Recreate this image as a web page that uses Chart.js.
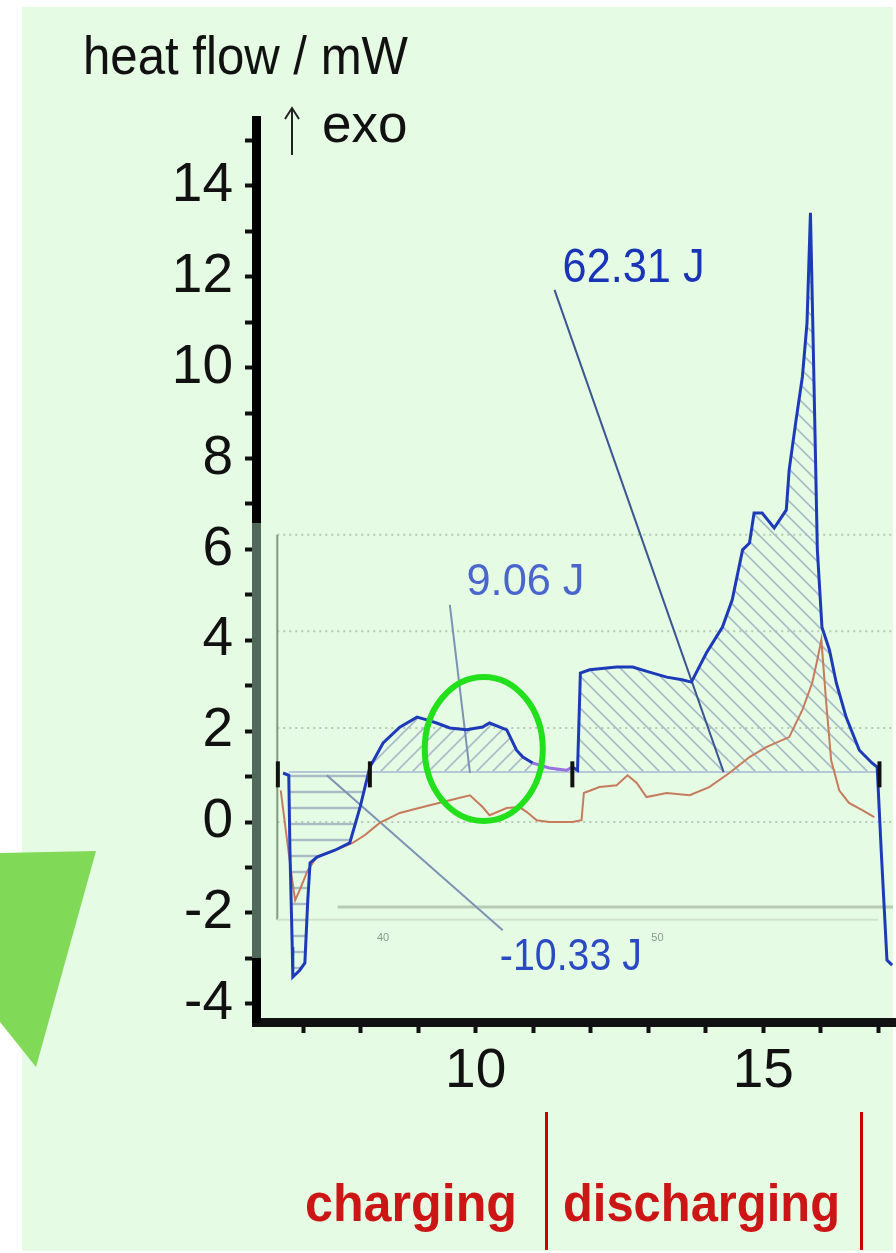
<!DOCTYPE html>
<html>
<head>
<meta charset="utf-8">
<script src="https://cdn.jsdelivr.net/npm/chart.js@4.4.1/dist/chart.umd.min.js"></script>
<style>
html,body{margin:0;padding:0;background:#fff;overflow:hidden;width:896px;height:1253px;}
canvas{display:block;}
</style>
</head>
<body>
<canvas id="c" width="912" height="1253"></canvas>
<script>
// heat flow trace (time in h, mW)
const blueT = [6.65,6.75,6.77,6.81,6.82,6.94,7.03,7.08,7.12,7.24,7.55,7.81,7.99,8.16,8.39,8.68,8.98,9.15,9.32,9.55,9.84,10.12,10.24,10.42,10.54,10.71,10.82,10.99,11.28,11.58,11.68,11.77,11.82,11.98,12.45,12.73,13.02,13.32,13.59,13.75,14.01,14.29,14.46,14.64,14.76,14.84,14.98,15.19,15.40,15.45,15.57,15.68,15.76,15.82,15.87,15.94,16.02,16.15,16.27,16.44,16.67,16.89,16.98,17.05,17.15,17.24];
const blueV = [1.08,1.03,-0.62,-2.75,-3.41,-3.26,-3.10,-1.72,-0.90,-0.77,-0.62,-0.46,0.33,1.21,1.74,2.09,2.31,2.25,2.18,2.07,2.03,2.09,2.18,2.09,2.03,1.58,1.43,1.30,1.19,1.14,1.21,1.14,3.28,3.35,3.41,3.41,3.30,3.19,3.13,3.08,3.72,4.29,4.89,5.99,6.14,6.80,6.80,6.47,6.87,7.75,8.85,9.80,10.98,13.41,10.39,5.99,4.29,3.79,3.06,2.31,1.58,1.30,1.21,-0.62,-3.04,-3.15];

// second trace
const orangeT = [6.61,6.72,6.81,6.86,6.94,7.08,7.24,7.55,7.86,8.07,8.33,8.68,9.08,9.55,9.90,10.12,10.24,10.54,10.76,10.89,11.06,11.28,11.68,11.84,11.88,12.15,12.45,12.64,12.80,12.97,13.32,13.72,14.06,14.41,14.76,15.05,15.45,15.68,15.85,15.94,16.01,16.09,16.18,16.32,16.49,16.72,16.93];
const orangeV = [0.70,-0.40,-1.28,-1.72,-1.50,-1.06,-0.77,-0.62,-0.46,-0.29,-0.02,0.20,0.33,0.48,0.59,0.33,0.15,0.31,0.33,0.22,0.04,0.00,0.00,0.04,0.64,0.77,0.81,1.03,0.86,0.55,0.64,0.59,0.77,1.08,1.43,1.65,1.87,2.47,3.06,3.57,4.01,2.69,1.36,0.70,0.42,0.26,0.11];

// integration baseline and peak limits
const baseLevel = 1.1;
const baselineT = [6.75, 17.0];
const peakRanges = [[6.75, 8.16], [8.16, 11.68], [11.77, 16.98]];
const markerT = [6.56, 8.16, 11.68, 17.02];

// area labels and their leader lines
const areaLabels = ["-10.33 J", "9.06 J", "62.31 J"];
const labelT = [10.42, 9.84, 11.51];
const labelV = [-2.99, 5.28, 12.19];
const leaderT = [[7.41, 10.47], [9.55, 9.90], [11.37, 14.31]];
const leaderV = [[1.03, -2.38], [4.78, 1.08], [11.71, 1.10]];

// overlaid inset grid
const insetGrid = [6.32, 4.2, 2.07, 0];
const insetTicks = ["40", "50"];
const insetTickT = [8.39, 13.16];

const phaseBounds = [11.22, 16.7];
const yTicks = [-4, -2, 0, 2, 4, 6, 8, 10, 12, 14];
const xTicks = [10, 15];

const pts = (t, v) => t.map((x, i) => ({x: x, y: v[i]}));
const bluePts = pts(blueT, blueV);

function hatch(kind) {
  const c = document.createElement('canvas');
  c.width = 16; c.height = 16;
  const g = c.getContext('2d');
  g.strokeStyle = '#a8bcc8';
  g.lineWidth = 1.6;
  g.beginPath();
  if (kind === 'h') {
    g.moveTo(0, 8); g.lineTo(16, 8);
    g.lineWidth = 2.4;
  } else if (kind === '/') {
    g.moveTo(-2, 18); g.lineTo(18, -2);
    g.moveTo(-2, 2); g.lineTo(2, -2);
    g.moveTo(14, 18); g.lineTo(18, 14);
  } else {
    g.moveTo(-2, -2); g.lineTo(18, 18);
    g.moveTo(14, -2); g.lineTo(18, 2);
    g.moveTo(-2, 14); g.lineTo(2, 18);
  }
  g.stroke();
  return g.createPattern(c, 'repeat');
}
const patterns = [hatch('h'), hatch('/'), hatch('\\')];

const tickFont = {family: '"Liberation Sans", Arial, sans-serif', size: 55};

const datasets = [];
peakRanges.forEach((r, i) => {
  datasets.push({
    data: bluePts.filter(p => p.x >= r[0] && p.x <= r[1]),
    borderWidth: 0, pointRadius: 0,
    backgroundColor: patterns[i],
    fill: {value: baseLevel},
    order: 10
  });
});
datasets.push({
  data: baselineT.map(x => ({x: x, y: baseLevel})),
  borderColor: '#b4c8d8', borderWidth: 2, pointRadius: 0, fill: false, order: 6
});
leaderT.forEach((t, i) => {
  datasets.push({
    data: pts(t, leaderV[i]),
    borderColor: i === 2 ? '#3b5690' : '#7d93b4', borderWidth: 2, pointRadius: 0, fill: false, order: 5
  });
});
datasets.push({
  data: pts(orangeT, orangeV),
  borderColor: '#c67c5c', borderWidth: 2, pointRadius: 0, fill: false, order: 3
});
datasets.push({
  data: bluePts,
  borderColor: '#1d3bb8', borderWidth: 3, pointRadius: 0, fill: false, order: 2,
  segment: {
    borderColor: ctx => (ctx.p0.parsed.x >= 10.9 && ctx.p1.parsed.x <= 11.7) ? '#9a72e0' : undefined
  }
});
datasets.push({
  data: markerT.map(x => ({x: x, y: 1.05})),
  showLine: false, pointStyle: 'line', rotation: 90, pointRadius: 13,
  borderColor: '#111', borderWidth: 4, order: 1
});

const decor = {
  id: 'decor',
  beforeDraw(chart) {
    const c = chart.ctx;
    c.save();
    c.fillStyle = '#ffffff';
    c.fillRect(0, 0, chart.width, chart.height);
    c.fillStyle = '#e5fbe3';
    c.fillRect(22, 7, 871, 1244);
    c.restore();
  },
  beforeDatasetsDraw(chart) {
    const c = chart.ctx, x = chart.scales.x, y = chart.scales.y;
    const x0 = x.getPixelForValue(6.55);
    c.save();
    c.strokeStyle = '#b6cab4';
    c.lineWidth = 2;
    c.setLineDash([2, 4]);
    insetGrid.forEach(v => {
      const py = y.getPixelForValue(v);
      c.beginPath(); c.moveTo(x0, py); c.lineTo(893, py); c.stroke();
    });
    c.setLineDash([]);
    c.strokeStyle = '#7f9c80';
    c.beginPath(); c.moveTo(x0, y.getPixelForValue(6.32)); c.lineTo(x0, y.getPixelForValue(-2.15)); c.stroke();
    c.strokeStyle = '#b9cbb5'; c.lineWidth = 3;
    c.beginPath(); c.moveTo(x.getPixelForValue(7.6), y.getPixelForValue(-1.87)); c.lineTo(893, y.getPixelForValue(-1.87)); c.stroke();
    c.strokeStyle = '#d2e2ce'; c.lineWidth = 2;
    c.beginPath(); c.moveTo(x0, y.getPixelForValue(-2.15)); c.lineTo(x.getPixelForValue(17.0), y.getPixelForValue(-2.15)); c.stroke();
    c.fillStyle = '#8a9c8a';
    c.font = '11px "Liberation Sans"';
    c.textAlign = 'center';
    insetTicks.forEach((s, i) => c.fillText(s, x.getPixelForValue(insetTickT[i]), y.getPixelForValue(-2.62)));
    c.restore();
  },
  afterDraw(chart) {
    const c = chart.ctx, x = chart.scales.x, y = chart.scales.y;
    c.save();
    // inset overlay tint on the axis
    c.fillStyle = '#50695a';
    c.fillRect(252, 523, 9, 435);

    // ellipse
    c.strokeStyle = '#22e01c';
    c.lineWidth = 6;
    c.beginPath();
    c.ellipse(x.getPixelForValue(10.14), y.getPixelForValue(1.61), 59, 72, 0, 0, Math.PI * 2);
    c.stroke();

    // area labels
    c.textBaseline = 'middle';
    c.textAlign = 'left';
    const sizes = [44, 45, 49];
    const cols = ['#2a4ac4', '#4a66cc', '#1a34b8'];
    const widths = [142, 118, 142];
    areaLabels.forEach((s, i) => {
      c.fillStyle = cols[i];
      c.font = sizes[i] + 'px "Liberation Sans"';
      c.fillText(s, x.getPixelForValue(labelT[i]), y.getPixelForValue(labelV[i]), widths[i]);
    });

    // axis title
    c.textBaseline = 'alphabetic';
    c.fillStyle = '#111';
    c.font = '53px "Liberation Sans"';
    c.fillText('heat flow / mW', 83, 74, 325);
    c.fillText('exo', 322, 142);
    c.strokeStyle = '#222';
    c.lineWidth = 2;
    c.beginPath();
    c.moveTo(292, 155); c.lineTo(292, 108);
    c.moveTo(285, 119); c.lineTo(292, 108); c.lineTo(299, 119);
    c.stroke();

    // phase labels
    c.fillStyle = '#cc1616';
    c.font = 'bold 51px "Liberation Sans"';
    c.fillText('charging', 305, 1221, 212);
    c.fillText('discharging', 563, 1221, 277);
    c.strokeStyle = '#cc0000';
    c.lineWidth = 3;
    phaseBounds.forEach(t => {
      const px = Math.round(x.getPixelForValue(t)) + 0.5;
      c.beginPath(); c.moveTo(px, 1112); c.lineTo(px, 1250); c.stroke();
    });

    // white margin right of the figure
    c.fillStyle = '#ffffff';
    c.fillRect(893, 0, chart.width - 893, 7);

    // green marker triangle
    c.fillStyle = '#80da58';
    c.beginPath();
    c.moveTo(0, 853); c.lineTo(96, 851); c.lineTo(36, 1067); c.lineTo(0, 1022);
    c.closePath();
    c.fill();
    c.restore();
  }
};

new Chart(document.getElementById('c'), {
  type: 'line',
  data: {datasets: datasets},
  options: {
    responsive: false,
    devicePixelRatio: 1,
    animation: false,
    layout: {padding: {top: 120, left: 0, right: 0, bottom: 151}},
    plugins: {legend: {display: false}, tooltip: {enabled: false}},
    scales: {
      x: {
        type: 'linear', min: 6.18, max: 17.29,
        afterFit: s => { s.height = 80; },
        border: {color: '#111', width: 9},
        grid: {drawOnChartArea: false, tickLength: 11, tickWidth: 4, tickColor: '#111'},
        ticks: {stepSize: 1, includeBounds: false, autoSkip: false, maxRotation: 0,
          callback: v => xTicks.includes(v) ? String(v) : '',
          font: tickFont, color: '#111', padding: 6}
      },
      y: {
        min: -4.4, max: 15.45,
        afterFit: s => { s.width = 256; },
        border: {color: '#000', width: 9},
        grid: {drawOnChartArea: false, tickLength: 11, tickWidth: 4, tickColor: '#111'},
        ticks: {stepSize: 1, includeBounds: false, autoSkip: false,
          callback: v => yTicks.includes(v) ? String(v) : '',
          font: tickFont, color: '#111', padding: 12}
      }
    }
  },
  plugins: [decor]
});
</script>
</body>
</html>
